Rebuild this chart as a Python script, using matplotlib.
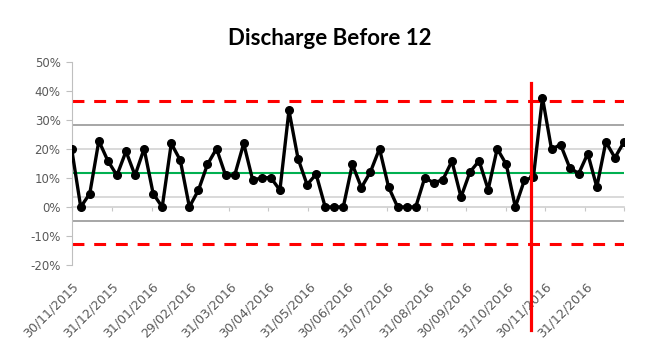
import matplotlib
matplotlib.use("Agg")
import matplotlib.pyplot as plt
import pandas as pd
from matplotlib.ticker import FuncFormatter

# weekly data, first week 30/11/2015
start_date = "2015-11-30"
values = [20.0, 0.0, 4.6, 22.8, 15.9, 10.9, 19.2, 10.9, 20.1, 4.6,
          0.0, 21.9, 16.1, 0.0, 5.8, 14.7, 20.1, 10.9, 10.9, 21.9,
          9.2, 10.1, 10.1, 5.8, 33.3, 16.7, 7.7, 11.3, 0.0, 0.0,
          0.0, 14.7, 6.7, 12.1, 20.1, 6.9, 0.0, 0.0, 0.0, 10.1,
          8.3, 9.4, 15.8, 3.4, 12.1, 15.9, 6.0, 20.1, 14.7, 0.0,
          9.2, 10.3, 37.7, 19.9, 21.5, 13.6, 11.5, 18.4, 6.9, 22.4,
          17.0, 22.4]

# control chart lines
mean_line = 11.8
sigma1 = [20.0, 3.6]
sigma2 = [28.3, -4.7]
sigma3 = [36.5, -12.9]

change_date = "2016-11-19"

dates = pd.date_range(start_date, periods=len(values), freq="7D")
month_ends = pd.date_range(start_date, dates[-1], freq="ME")
labels = [d.strftime("%d/%m/%Y") for d in month_ends]

plt.rcParams["font.family"] = ["DejaVu Sans"]

fig = plt.figure(figsize=(6.48, 3.4), dpi=100)
ax = fig.add_axes([0.1106, 0.2206, 0.8523, 0.5971])

# sigma lines
for v in sigma1:
    ax.axhline(v, color="#d9d9d9", linewidth=1.4, zorder=1)
for v in sigma2:
    ax.axhline(v, color="#a6a6a6", linewidth=1.4, zorder=1)
for v in sigma3:
    ax.plot([dates[0], dates[-1]], [v, v], color="red", linewidth=2.2,
            dashes=(3.9, 3.2), zorder=2)
ax.axhline(mean_line, color="#00b050", linewidth=1.5, zorder=2)

# data
ax.plot(dates, values, color="black", linewidth=2.4, marker="o",
        markersize=5.5, zorder=4)

# change line
ax.axvline(pd.Timestamp(change_date), ymin=-0.32, ymax=0.897, color="red",
           linewidth=2.3, clip_on=False, zorder=5)

ax.set_xlim(dates[0], dates[-1])
ax.set_ylim(-20, 50)
ax.set_yticks(range(-20, 60, 10))
ax.yaxis.set_major_formatter(FuncFormatter(lambda v, p: f"{v:.0f}%"))
ax.tick_params(axis="y", colors="#595959", labelsize=8.5, length=4,
               width=0.8, pad=4, color="#bfbfbf")

for s in ["top", "right", "bottom"]:
    ax.spines[s].set_visible(False)
ax.spines["left"].set_color("#bfbfbf")
ax.spines["left"].set_linewidth(0.8)

# date labels at the bottom
ax.set_xticks(month_ends)
ax.set_xticklabels(labels)
ax.tick_params(axis="x", length=0, pad=11, labelsize=9, labelcolor="#595959")
plt.setp(ax.get_xticklabels(), rotation=45, ha="right", rotation_mode="anchor")

# zero axis with month ticks
zero_ax = ax.secondary_xaxis(2 / 7)
zero_ax.set_xticks(list(month_ends) + [dates[-1]])
zero_ax.set_xticklabels([])
zero_ax.tick_params(axis="x", direction="out", length=3, width=0.8,
                    color="#c8c8c8")
zero_ax.spines["bottom"].set_color("#d0d0d0")
zero_ax.spines["bottom"].set_linewidth(1.2)

fig.text(0.509, 0.868, "Discharge Before 12", ha="center", va="baseline",
         fontsize=16, fontweight="bold", family=["Lato", "DejaVu Sans"])

plt.savefig("out.png", dpi=100)
